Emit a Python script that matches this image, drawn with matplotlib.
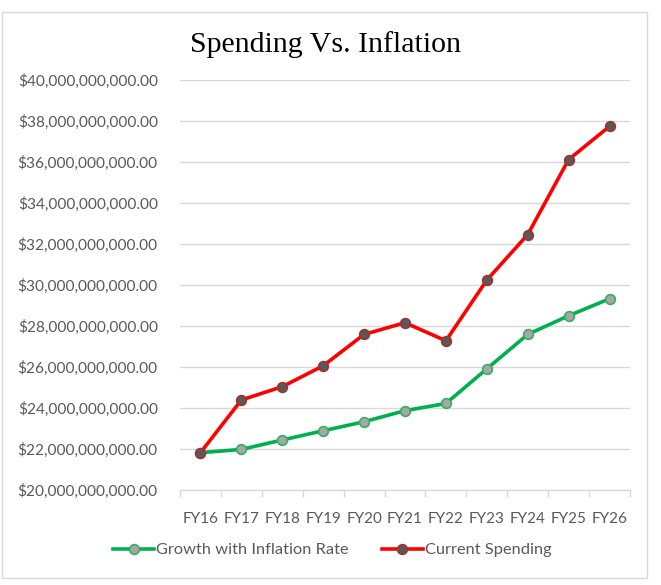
import numpy as np
import matplotlib.pyplot as plt
from matplotlib.ticker import FuncFormatter, FixedLocator
from matplotlib.patches import Rectangle

years = ['FY16', 'FY17', 'FY18', 'FY19', 'FY20', 'FY21', 'FY22', 'FY23', 'FY24', 'FY25', 'FY26']
# values in billions of dollars
inflation = [21.82, 21.98, 22.44, 22.89, 23.33, 23.87, 24.22, 25.91, 27.59, 28.50, 29.33]
spending = [21.82, 24.39, 25.04, 26.06, 27.59, 28.16, 27.28, 30.24, 32.46, 36.12, 37.74]
yticks = np.arange(20, 41, 2)

fig = plt.figure(figsize=(6.61, 5.85), dpi=100)
ax = fig.add_axes([180/661, 1-490/585, 450/661, 410/585])

x = np.arange(len(years))
ax.plot(x, np.array(inflation)*1e9, '-o', color='#00b050', lw=2.6, ms=7,
        mfc='#a6a6a6', mec='#33b060', mew=1.2, label='Growth with Inflation Rate', zorder=3)
ax.plot(x, np.array(spending)*1e9, '-o', color='#ff0000', lw=2.6, ms=7,
        mfc='#595959', mec='#a3302f', mew=1.2, label='Current Spending', zorder=3)

ax.set_xlim(-0.5, len(years)-0.5)
ax.set_ylim(20e9, 40e9)
ax.set_yticks(yticks*1e9)
ax.yaxis.set_major_formatter(FuncFormatter(lambda v, p: '${:,.2f}'.format(v)))
ax.set_xticks(x)
ax.set_xticklabels(years)
ax.xaxis.set_minor_locator(FixedLocator(np.arange(-0.5, len(years), 1.0)))

for s in ['top', 'right', 'left']:
    ax.spines[s].set_visible(False)
ax.spines['bottom'].set_color('#d9d9d9')
ax.spines['bottom'].set_linewidth(1.0)
ax.grid(axis='y', color='#d9d9d9', lw=1.0)
ax.set_axisbelow(True)

ax.tick_params(axis='y', length=0, pad=16, labelsize=11.1, labelcolor='#595959')
ax.tick_params(axis='x', which='major', length=0, pad=16, labelsize=11, labelcolor='#595959')
ax.tick_params(axis='x', which='minor', length=5, color='#d9d9d9', width=1.0)
for t in ax.get_xticklabels() + ax.get_yticklabels():
    t.set_fontfamily('Lato')

fig.text(0.493, 1-52/585, 'Spending Vs. Inflation', ha='center', va='baseline',
         fontsize=21.5, family='Liberation Serif')

leg = fig.legend(loc='center', bbox_to_anchor=(0.503, 1-550/585), ncol=2, frameon=False,
                 prop={'family': 'Lato', 'size': 11.8}, handlelength=2.5,
                 handletextpad=0.15, columnspacing=2.0)
for t in leg.get_texts():
    t.set_color('#595959')

fig.patches.append(Rectangle((2/661, 1-578/585), 645/661, 566/585, transform=fig.transFigure,
                             fill=False, edgecolor='#d9d9d9', lw=1.0))

fig.savefig('out.png', dpi=100, facecolor='white')
